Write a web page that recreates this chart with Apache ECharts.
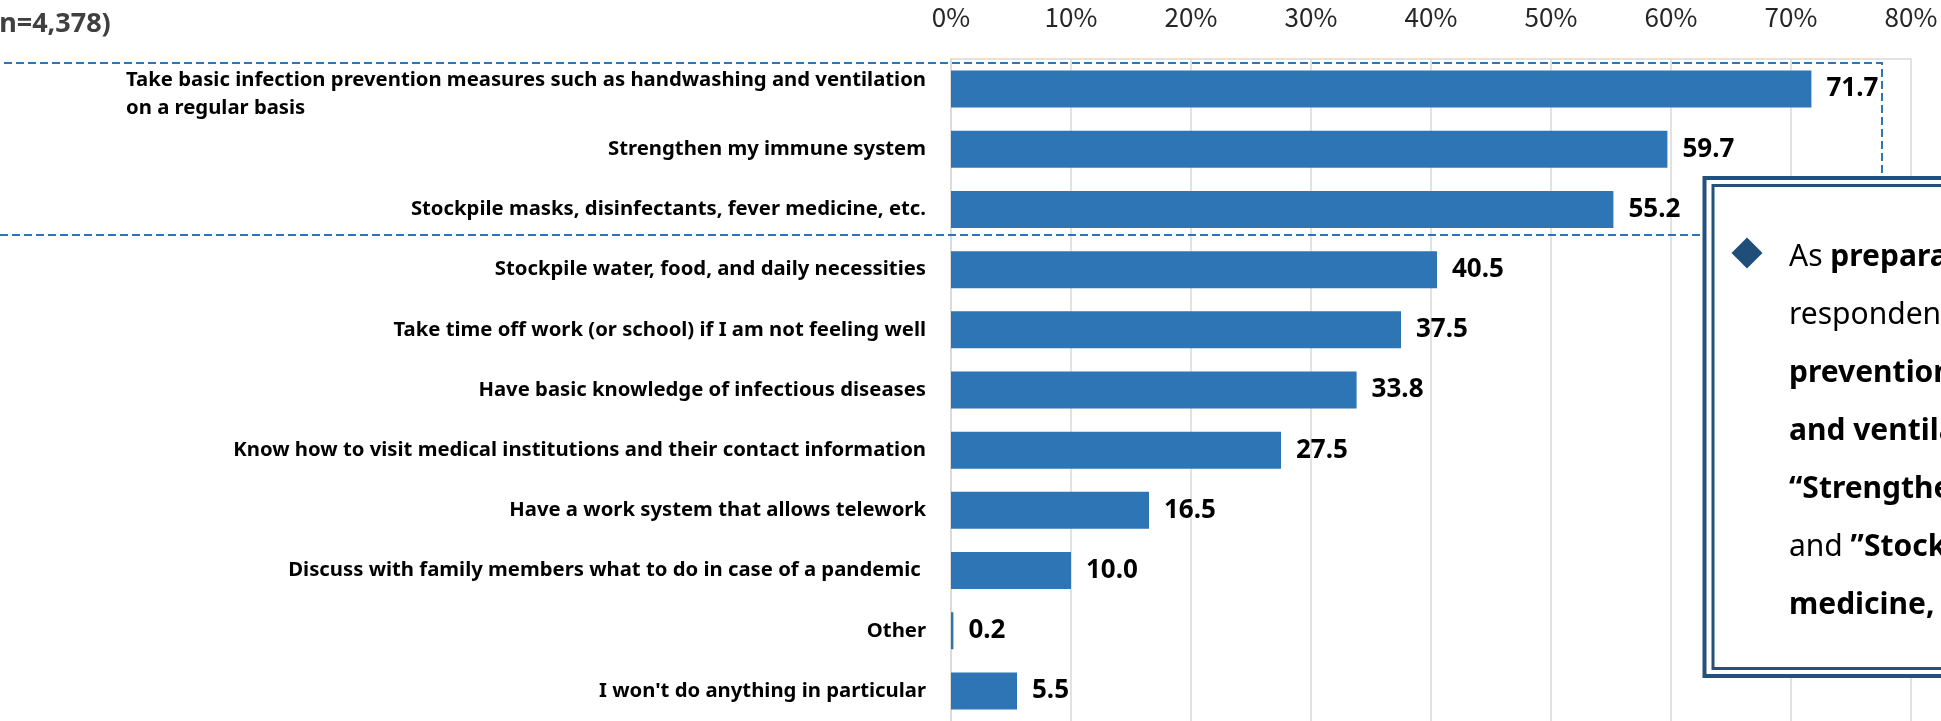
<!DOCTYPE html>
<html>
<head>
<meta charset="utf-8">
<script src="https://cdn.jsdelivr.net/npm/echarts@6/dist/echarts.min.js"></script>
<style>
  html, body { margin: 0; padding: 0; background: #ffffff; }
  #chart { width: 1941px; height: 721px; }
</style>
</head>
<body>
<div id="chart"></div>
<script>
// Sample size note shown at the top left
const sampleNote = '(n=4,378)';

// Survey answers, listed from top to bottom
const categories = [
  'Take basic infection prevention measures such as handwashing and ventilation\non a regular basis',
  'Strengthen my immune system',
  'Stockpile masks, disinfectants, fever medicine, etc.',
  'Stockpile water, food, and daily necessities',
  'Take time off work (or school) if I am not feeling well',
  'Have basic knowledge of infectious diseases',
  'Know how to visit medical institutions and their contact information',
  'Have a work system that allows telework',
  'Discuss with family members what to do in case of a pandemic ',
  'Other',
  "I won't do anything in particular"
];

// Share of respondents (%) for each answer
const shares = [71.7, 59.7, 55.2, 40.5, 37.5, 33.8, 27.5, 16.5, 10.0, 0.2, 5.5];

// Percentage scale
const axisMin = 0;
const axisMax = 80;
const axisStep = 10;

// Call-out text, one entry per line: [style, text] segments
const noteLines = [
  [['n', 'As '], ['b', 'preparations for a pandemic, many']],
  [['n', 'respondents chose '], ['b', '\u201CTake basic infection']],
  [['b', 'prevention measures such as handwashing']],
  [['b', 'and ventilation on a regular basis,\u201D']],
  [['b', '\u201CStrengthen my immune system,\u201D']],
  [['n', 'and '], ['b', '\u201DStockpile masks, disinfectants, fever']],
  [['b', 'medicine, etc.\u201D']]
];

const BAR = '#2e75b6';
const FRAME = '#24507d';
const SANS = '"Noto Sans", "Open Sans", sans-serif';

const noteText = noteLines
  .map(line => line.map(([k, t]) => '{' + k + '|' + t + '}').join(''))
  .join('\n');

const chart = echarts.init(document.getElementById('chart'), null, { renderer: 'canvas' });

chart.setOption({
  animation: false,
  backgroundColor: '#ffffff',
  title: {
    text: sampleNote,
    left: -10,
    top: 11,
    padding: 0,
    textStyle: { fontFamily: SANS, fontSize: 27, fontWeight: 'bold', color: '#404040' }
  },
  grid: { left: 951, right: 30, top: 59, height: 663, containLabel: false },
  xAxis: {
    type: 'value',
    position: 'top',
    min: axisMin,
    max: axisMax,
    interval: axisStep,
    axisLine: { show: true, lineStyle: { color: '#d9d9d9', width: 1.5 } },
    axisTick: { show: false },
    splitLine: { show: true, lineStyle: { color: '#d9d9d9', width: 1.5 } },
    axisLabel: {
      formatter: '{value}%',
      margin: 29,
      fontFamily: '"Noto Sans CJK JP", "Noto Sans", sans-serif',
      fontSize: 26,
      color: '#262626'
    }
  },
  yAxis: {
    type: 'category',
    inverse: true,
    data: categories.map((c, i) => i === 0
      ? { value: c, textStyle: { padding: [10, 0, 0, 0] } }
      : c),
    axisLine: { show: true, lineStyle: { color: '#d9d9d9', width: 1.5 } },
    axisTick: { show: false },
    axisLabel: {
      margin: 25,
      fontFamily: SANS,
      fontSize: 20.3,
      fontWeight: 'bold',
      color: '#000000',
      lineHeight: 28,
      formatter: v => v.indexOf('\n') >= 0
        ? v.split('\n').map(s => '{l|' + s + '}').join('\n')
        : v,
      rich: {
        l: {
          align: 'left',
          fontFamily: SANS,
          fontSize: 20.3,
          fontWeight: 'bold',
          color: '#000000',
          lineHeight: 28
        }
      }
    }
  },
  series: [{
    type: 'bar',
    data: shares,
    barWidth: 37,
    itemStyle: { color: BAR },
    label: {
      show: true,
      position: 'right',
      distance: 15,
      formatter: p => p.value.toFixed(1),
      fontFamily: SANS,
      fontSize: 26,
      fontWeight: 'bold',
      color: '#000000'
    }
  }],
  graphic: [
    {
      type: 'rect',
      z: 100,
      shape: { x: -20, y: 63, width: 1902, height: 172 },
      style: { fill: 'none', stroke: BAR, lineWidth: 2, lineDash: [8, 4] }
    },
    {
      type: 'rect',
      z: 101,
      shape: { x: 1704.5, y: 178, width: 400, height: 498 },
      style: { fill: '#ffffff', stroke: FRAME, lineWidth: 4 }
    },
    {
      type: 'rect',
      z: 102,
      shape: { x: 1713, y: 185.5, width: 400, height: 483 },
      style: { fill: 'none', stroke: FRAME, lineWidth: 3 }
    },
    {
      type: 'polygon',
      z: 103,
      shape: { points: [[1747, 237.5], [1762.5, 253], [1747, 268.5], [1731.5, 253]] },
      style: { fill: '#1f4e79' }
    },
    {
      type: 'text',
      z: 103,
      x: 1789,
      y: 228,
      style: {
        text: noteText,
        fontFamily: SANS,
        fontSize: 30,
        lineHeight: 58,
        fill: '#000000',
        rich: {
          n: { fontFamily: SANS, fontSize: 30, fontWeight: 'normal', fill: '#000000', lineHeight: 58 },
          b: { fontFamily: SANS, fontSize: 30, fontWeight: 'bold', fill: '#000000', lineHeight: 58 }
        }
      }
    }
  ]
});
</script>
</body>
</html>
